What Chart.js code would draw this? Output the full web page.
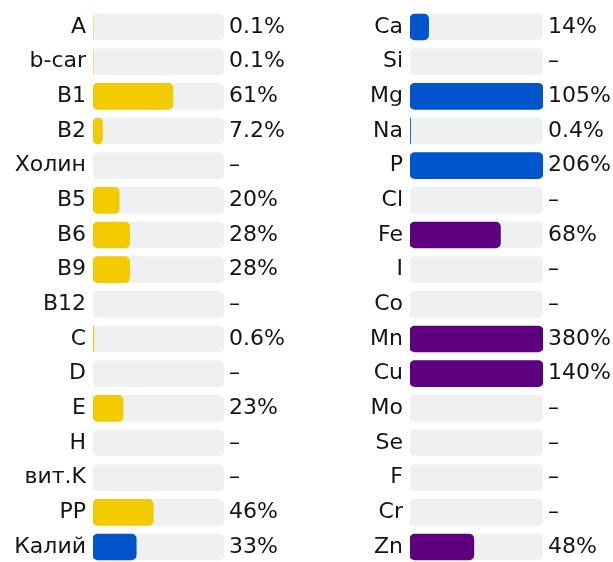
<!DOCTYPE html>
<html>
<head>
<meta charset="utf-8">
<script src="https://cdn.jsdelivr.net/npm/chart.js@4/dist/chart.umd.min.js"></script>
<style>
  html, body { margin: 0; padding: 0; background: #fff; overflow: hidden; }
  #wrap { position: relative; width: 613px; height: 562px; }
  canvas { position: absolute; top: 0; }
  #left { left: 0; }
  #right { left: 300px; }
</style>
</head>
<body>
<div id="wrap">
  <canvas id="left" width="300" height="565"></canvas>
  <canvas id="right" width="313" height="565"></canvas>
</div>
<script>
// vitamins (left column)
const vitNames = ['A', 'b-car', 'B1', 'B2', 'Холин', 'B5', 'B6', 'B9', 'B12', 'C', 'D', 'E', 'H', 'вит.K', 'PP', 'Калий'];
const vitValues = [0.1, 0.1, 61, 7.2, null, 20, 28, 28, null, 0.6, null, 23, null, null, 46, 33];
const vitGroups = ['vit', 'vit', 'vit', 'vit', 'vit', 'vit', 'vit', 'vit', 'vit', 'vit', 'vit', 'vit', 'vit', 'vit', 'vit', 'macro'];

// minerals (right column)
const minNames = ['Ca', 'Si', 'Mg', 'Na', 'P', 'Cl', 'Fe', 'I', 'Co', 'Mn', 'Cu', 'Mo', 'Se', 'F', 'Cr', 'Zn'];
const minValues = [14, null, 105, 0.4, 206, null, 68, null, null, 380, 140, null, null, null, null, 48];
const minGroups = ['macro', 'macro', 'macro', 'macro', 'macro', 'macro', 'micro', 'micro', 'micro', 'micro', 'micro', 'micro', 'micro', 'micro', 'micro', 'micro'];

const groupColors = { vit: '#f2cb00', macro: '#0055cc', micro: '#5c0080' };
const trackColor = '#eff0f2';
const textFont = { family: 'DejaVu Sans', size: 22 };
const textColor = '#141414';

function fmt(v) {
  return v == null ? '–' : v + '%';
}

// fixed side widths, no extra room for tick label overflow
function fixWidth(w) {
  return function (scale) {
    scale.width = w;
    scale.paddingTop = 0;
    scale.paddingBottom = 0;
  };
}

function makeChart(id, names, values, groups, labelWidth, valueWidth) {
  const ctx = document.getElementById(id);
  return new Chart(ctx, {
    type: 'bar',
    data: {
      labels: names,
      datasets: [
        {
          data: values.map(v => v == null ? null : Math.min(v, 100)),
          backgroundColor: groups.map(g => groupColors[g]),
          barThickness: 26,
          borderRadius: 5,
          borderSkipped: false,
          grouped: false,
          order: 0
        },
        {
          data: names.map(() => 100),
          backgroundColor: trackColor,
          barThickness: 26,
          borderRadius: 5,
          borderSkipped: false,
          grouped: false,
          order: 1
        }
      ]
    },
    options: {
      indexAxis: 'y',
      responsive: false,
      animation: false,
      layout: { padding: { top: 9.67, bottom: 0.67, left: 0, right: 0 } },
      plugins: { legend: { display: false }, tooltip: { enabled: false } },
      scales: {
        x: { display: false, min: 0, max: 100 },
        y: {
          offset: true,
          grid: { display: false, drawTicks: false },
          border: { display: false },
          ticks: { font: textFont, color: textColor, padding: 7 },
          afterFit: fixWidth(labelWidth)
        },
        y2: {
          type: 'category',
          position: 'right',
          labels: values.map(fmt),
          offset: true,
          grid: { display: false, drawTicks: false },
          border: { display: false },
          ticks: { font: textFont, color: textColor, padding: 5 },
          afterFit: fixWidth(valueWidth)
        }
      }
    }
  });
}

makeChart('left', vitNames, vitValues, vitGroups, 93, 76);
makeChart('right', minNames, minValues, minGroups, 110, 70);
</script>
</body>
</html>
